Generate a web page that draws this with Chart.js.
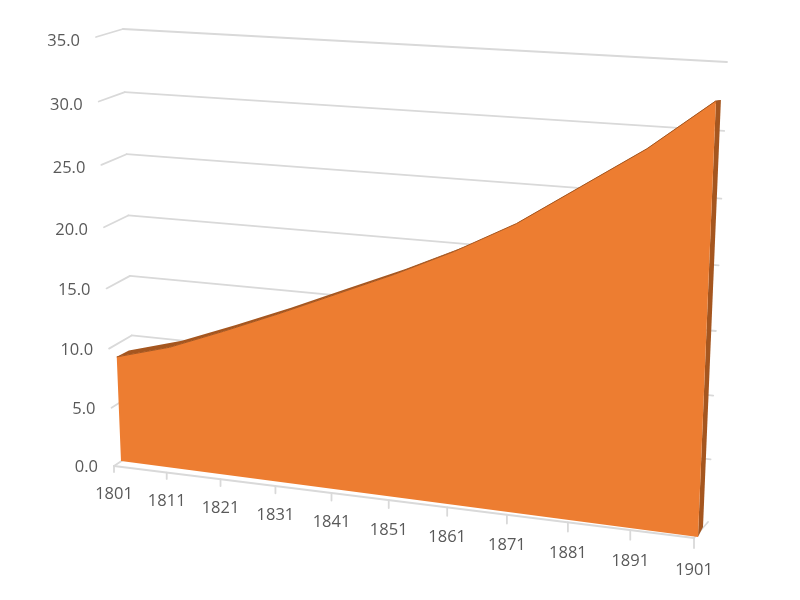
<!DOCTYPE html>
<html>
<head>
<meta charset="utf-8">
<title>Area chart</title>
<script src="https://cdn.jsdelivr.net/npm/chart.js@4/dist/chart.umd.min.js"></script>
<style>
  html, body { margin: 0; padding: 0; background: #fff; }
  canvas { display: block; }
</style>
</head>
<body>
<canvas id="chart" width="800" height="600"></canvas>
<script>
// values
const years = ["1801", "1811", "1821", "1831", "1841", "1851", "1861", "1871", "1881", "1891", "1901"];
const population = [8.9, 10.2, 12.0, 13.9, 15.9, 17.9, 20.1, 22.6, 25.7, 28.8, 32.5];
const valueMin = 0;
const valueMax = 35;
const valueStep = 5;

// the planes of the 3D box as seen in the picture: [top left, top right, bottom right, bottom left]
const backWall = [[123, 29], [727, 62], [708, 522], [135, 452]];
const outerFront = [[96, 37], [714, 63], [694, 538], [114, 466]];
const areaFront = [[103.5, 33], [717.4, 65], [698, 537], [121, 461]];
const areaBack = [[116, 28], [722.4, 65], [703, 527], [133, 454]];

// unit square -> quad, plain projective mapping
function makeProjection(q) {
  const [p0, p1, p2, p3] = q;
  const dx1 = p1[0] - p2[0], dx2 = p3[0] - p2[0], sx = p0[0] - p1[0] + p2[0] - p3[0];
  const dy1 = p1[1] - p2[1], dy2 = p3[1] - p2[1], sy = p0[1] - p1[1] + p2[1] - p3[1];
  const det = dx1 * dy2 - dx2 * dy1;
  const g = (sx * dy2 - dx2 * sy) / det;
  const h = (dx1 * sy - sx * dy1) / det;
  const a = p1[0] - p0[0] + g * p1[0], b = p3[0] - p0[0] + h * p3[0], c = p0[0];
  const d = p1[1] - p0[1] + g * p1[1], e = p3[1] - p0[1] + h * p3[1], f = p0[1];
  return (u, t) => {
    const w = g * u + h * t + 1;
    return [(a * u + b * t + c) / w, (d * u + e * t + f) / w];
  };
}

const toBack = makeProjection(backWall);
const toOuter = makeProjection(outerFront);
const toFront = makeProjection(areaFront);
const toAreaBack = makeProjection(areaBack);

// scale pixel -> position in the unit square of a plane
function planeXY(chart, project, px, py) {
  const a = chart.chartArea;
  return project((px - a.left) / (a.right - a.left), (py - a.top) / (a.bottom - a.top));
}

function line(ctx, from, to) {
  ctx.beginPath();
  ctx.moveTo(from[0], from[1]);
  ctx.lineTo(to[0], to[1]);
  ctx.stroke();
}

function polygon(ctx, pts, color) {
  ctx.beginPath();
  pts.forEach((p, i) => (i ? ctx.lineTo(p[0], p[1]) : ctx.moveTo(p[0], p[1])));
  ctx.closePath();
  ctx.fillStyle = color;
  ctx.fill();
}

const perspective3d = {
  id: "perspective3d",
  // the line is drawn by the library, only its points get moved onto the front plane
  afterDatasetsUpdate(chart) {
    chart.getDatasetMeta(0).data.forEach((pt) => {
      const p = planeXY(chart, toFront, pt.x, pt.y);
      pt.x = p[0];
      pt.y = p[1];
    });
  },
  beforeDatasetsDraw(chart) {
    const ctx = chart.ctx;
    const xs = chart.scales.x;
    const ys = chart.scales.y;
    const a = chart.chartArea;
    ctx.save();
    ctx.lineCap = "round";

    // walls
    ctx.strokeStyle = "#d9d9d9";
    ctx.lineWidth = 1.8;
    ctx.fillStyle = "#595959";
    ctx.font = '16.5px "Open Sans"';
    ys.ticks.forEach((t) => {
      const py = ys.getPixelForValue(t.value);
      const tip = planeXY(chart, toOuter, a.left, py);
      const corner = planeXY(chart, toBack, a.left, py);
      const end = planeXY(chart, toBack, a.right, py);
      if (t.value > 0) {
        line(ctx, tip, corner);
        line(ctx, corner, end);
      }
      ctx.textAlign = "right";
      ctx.textBaseline = "middle";
      ctx.fillText(t.value.toFixed(1), tip[0] - 16, tip[1] + 1 + 3 * t.value / valueMax);
    });

    // floor
    const fl = planeXY(chart, toOuter, a.left, a.bottom);
    const fr = planeXY(chart, toOuter, a.right, a.bottom);
    line(ctx, fl, fr);
    line(ctx, fl, planeXY(chart, toBack, a.left, a.bottom));
    line(ctx, fr, planeXY(chart, toBack, a.right, a.bottom));
    ctx.textAlign = "center";
    years.forEach((label, i) => {
      const p = planeXY(chart, toOuter, xs.getPixelForValue(i), a.bottom);
      const k = i / (years.length - 1);
      line(ctx, p, [p[0], p[1] + 6 + 4 * k]);
      ctx.fillText(label, p[0], p[1] + 28 + 4 * k);
    });

    // the area: back face and edges first, front face on top
    const topFront = population.map((v, i) => planeXY(chart, toFront, xs.getPixelForValue(i), ys.getPixelForValue(v)));
    const topBack = population.map((v, i) => planeXY(chart, toAreaBack, xs.getPixelForValue(i), ys.getPixelForValue(v)));
    const last = population.length - 1;
    const dark = "#a5561f";
    polygon(ctx, topFront.concat(topBack.slice().reverse()), dark);
    polygon(ctx, [
      topFront[last],
      topBack[last],
      planeXY(chart, toAreaBack, xs.getPixelForValue(last), ys.getPixelForValue(valueMin)),
      planeXY(chart, toFront, xs.getPixelForValue(last), ys.getPixelForValue(valueMin))
    ], dark);
    polygon(ctx, topFront.concat([
      planeXY(chart, toFront, xs.getPixelForValue(last), ys.getPixelForValue(valueMin)),
      planeXY(chart, toFront, xs.getPixelForValue(0), ys.getPixelForValue(valueMin))
    ]), "#ed7d31");
    ctx.restore();
  }
};

new Chart(document.getElementById("chart"), {
  type: "line",
  data: {
    labels: years,
    datasets: [{
      data: population,
      borderColor: "#a5561f",
      borderWidth: 1,
      pointRadius: 0,
      tension: 0,
      fill: false,
      clip: false
    }]
  },
  options: {
    responsive: false,
    animation: false,
    layout: { padding: 0 },
    plugins: { legend: { display: false }, tooltip: { enabled: false } },
    scales: {
      x: { type: "category", display: false, offset: false },
      y: { type: "linear", display: false, min: valueMin, max: valueMax, ticks: { stepSize: valueStep } }
    }
  },
  plugins: [perspective3d]
});
</script>
</body>
</html>
